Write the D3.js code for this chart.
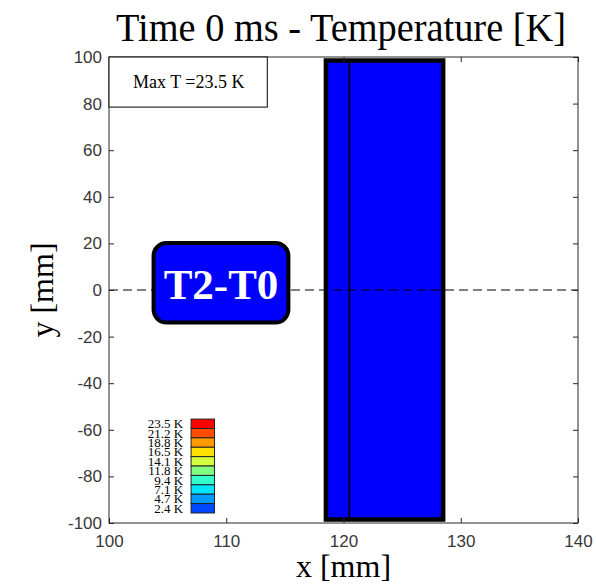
<!DOCTYPE html>
<html>
<head>
<meta charset="utf-8">
<script src="https://cdn.jsdelivr.net/npm/d3@7"></script>
<style>
  body { margin: 0; background: #fff; }
  .tick text { font-family: "Liberation Sans", Arial, sans-serif; font-size: 17px; fill: #383838; }
  .serif { font-family: "Liberation Serif", "Times New Roman", serif; }
</style>
</head>
<body>
<svg id="chart"></svg>
<script>
/// DATA ////////////////////////////////////////////////////////////////////////////////

var xTicks = [100, 110, 120, 130, 140];
var yTicks = [-100, -80, -60, -40, -20, 0, 20, 40, 60, 80, 100];

// sample rectangle [x0, x1, y0, y1] and the inner divider line (mm)
var sampleBox = [118.5, 128.5, -98.5, 98.5];
var dividerX = [120.5];

var maxT = 23.5;
var legendLabels = ["23.5 K", "21.2 K", "18.8 K", "16.5 K", "14.1 K", "11.8 K", "9.4 K", "7.1 K", "4.7 K", "2.4 K"];
var legendColors = ["#ff0000", "#ff4a00", "#ff9900", "#ffe000", "#d4ff3c", "#80ff80", "#33ffcc", "#00e5ff", "#0099ff", "#0048ff"];

/////////////////////////////////////////////////////////////////////////////////////////

var W = 596, H = 586;
var LEFT = 109, RIGHT = 578, TOP = 57, BOTTOM = 523;

var svg = d3.select('#chart').attr('width', W).attr('height', H);

var x = d3.scaleLinear().domain([100, 140]).range([LEFT, RIGHT]);
var y = d3.scaleLinear().domain([-100, 100]).range([BOTTOM, TOP]);

// sample, blue fill
svg.append('rect')
    .attr('x', x(sampleBox[0]))
    .attr('y', y(sampleBox[3]))
    .attr('width', x(sampleBox[1]) - x(sampleBox[0]))
    .attr('height', y(sampleBox[2]) - y(sampleBox[3]))
    .attr('fill', '#0000ff')
    .attr('stroke', '#000')
    .attr('stroke-width', 4.5);

svg.selectAll('.divider')
    .data(dividerX)
    .enter()
    .append('line')
        .attr('class', 'divider')
        .attr('x1', function (d) { return x(d) })
        .attr('x2', function (d) { return x(d) })
        .attr('y1', y(sampleBox[3]))
        .attr('y2', y(sampleBox[2]))
        .attr('stroke', '#000')
        .attr('stroke-width', 1.8);

// zero line
svg.append('line')
    .attr('x1', x(100)).attr('x2', x(140))
    .attr('y1', y(0)).attr('y2', y(0))
    .attr('stroke', '#000')
    .attr('stroke-width', 1)
    .attr('stroke-dasharray', '9,5');

// axes, MATLAB style: ticks inside on all four sides
var axisColor = '#262626';
var plain = function (d) { return String(d) };
function styleAxis(g) {
    g.select('.domain').remove();
    g.selectAll('.tick line').attr('stroke', axisColor);
}
svg.append('g')
    .attr('transform', 'translate(0,' + BOTTOM + ')')
    .call(d3.axisBottom(x).tickValues(xTicks).tickSize(-5).tickPadding(12).tickFormat(plain))
    .call(styleAxis);
svg.append('g')
    .attr('transform', 'translate(0,' + TOP + ')')
    .call(d3.axisTop(x).tickValues(xTicks).tickSize(-5).tickFormat(''))
    .call(styleAxis);
svg.append('g')
    .attr('transform', 'translate(' + LEFT + ',0)')
    .call(d3.axisLeft(y).tickValues(yTicks).tickSize(-5).tickPadding(7).tickFormat(plain))
    .call(styleAxis);
svg.append('g')
    .attr('transform', 'translate(' + RIGHT + ',0)')
    .call(d3.axisRight(y).tickValues(yTicks).tickSize(-5).tickFormat(''))
    .call(styleAxis);

svg.append('rect')
    .attr('x', LEFT).attr('y', TOP)
    .attr('width', RIGHT - LEFT).attr('height', BOTTOM - TOP)
    .attr('fill', 'none')
    .attr('stroke', axisColor)
    .attr('stroke-width', 1);

// max T box
svg.append('rect')
    .attr('x', x(100)).attr('y', y(100))
    .attr('width', x(113.5) - x(100))
    .attr('height', y(78.5) - y(100))
    .attr('fill', '#fff')
    .attr('stroke', '#000')
    .attr('stroke-width', 1);
svg.append('text')
    .attr('class', 'serif')
    .attr('x', x(106.8))
    .attr('y', y(100) + 31)
    .attr('text-anchor', 'middle')
    .attr('font-size', 18)
    .text('Max T =' + maxT + ' K');

// T2-T0 label
svg.append('rect')
    .attr('x', x(103.8)).attr('y', y(20.2))
    .attr('width', x(115.3) - x(103.8))
    .attr('height', y(-14) - y(20.2))
    .attr('rx', 13).attr('ry', 13)
    .attr('fill', '#0000ff')
    .attr('stroke', '#000')
    .attr('stroke-width', 4);
svg.append('text')
    .attr('class', 'serif')
    .attr('x', x(109.55))
    .attr('y', y(0) + 9)
    .attr('text-anchor', 'middle')
    .attr('font-size', 43)
    .attr('font-weight', 'bold')
    .attr('fill', '#fff')
    .text('T2-T0');

// colour legend
var legX0 = 107, legX1 = 109, legTop = -55.4, legStep = 4.03;
var leg = svg.append('g');
leg.selectAll('rect')
    .data(legendColors)
    .enter()
    .append('rect')
        .attr('x', x(legX0))
        .attr('y', function (d, i) { return y(legTop - i * legStep) })
        .attr('width', x(legX1) - x(legX0))
        .attr('height', y(0) - y(legStep))
        .attr('fill', function (d) { return d })
        .attr('stroke', '#222')
        .attr('stroke-width', 1);
leg.selectAll('text')
    .data(legendLabels)
    .enter()
    .append('text')
        .attr('class', 'serif')
        .attr('x', x(legX0) - 8)
        .attr('y', function (d, i) { return y(legTop - (i + 0.5) * legStep) + 4.5 })
        .attr('text-anchor', 'end')
        .attr('font-size', 13)
        .text(function (d) { return d });

// titles
svg.append('text')
    .attr('class', 'serif')
    .attr('x', 341).attr('y', 41)
    .attr('text-anchor', 'middle')
    .attr('font-size', 39)
    .attr('textLength', 450)
    .attr('lengthAdjust', 'spacingAndGlyphs')
    .text('Time 0 ms - Temperature [K]');

svg.append('text')
    .attr('class', 'serif')
    .attr('x', (LEFT + RIGHT) / 2).attr('y', 577)
    .attr('text-anchor', 'middle')
    .attr('font-size', 32)
    .text('x [mm]');

svg.append('text')
    .attr('class', 'serif')
    .attr('transform', 'translate(53,' + y(0) + ') rotate(-90)')
    .attr('text-anchor', 'middle')
    .attr('font-size', 32)
    .text('y [mm]');
</script>
</body>
</html>
